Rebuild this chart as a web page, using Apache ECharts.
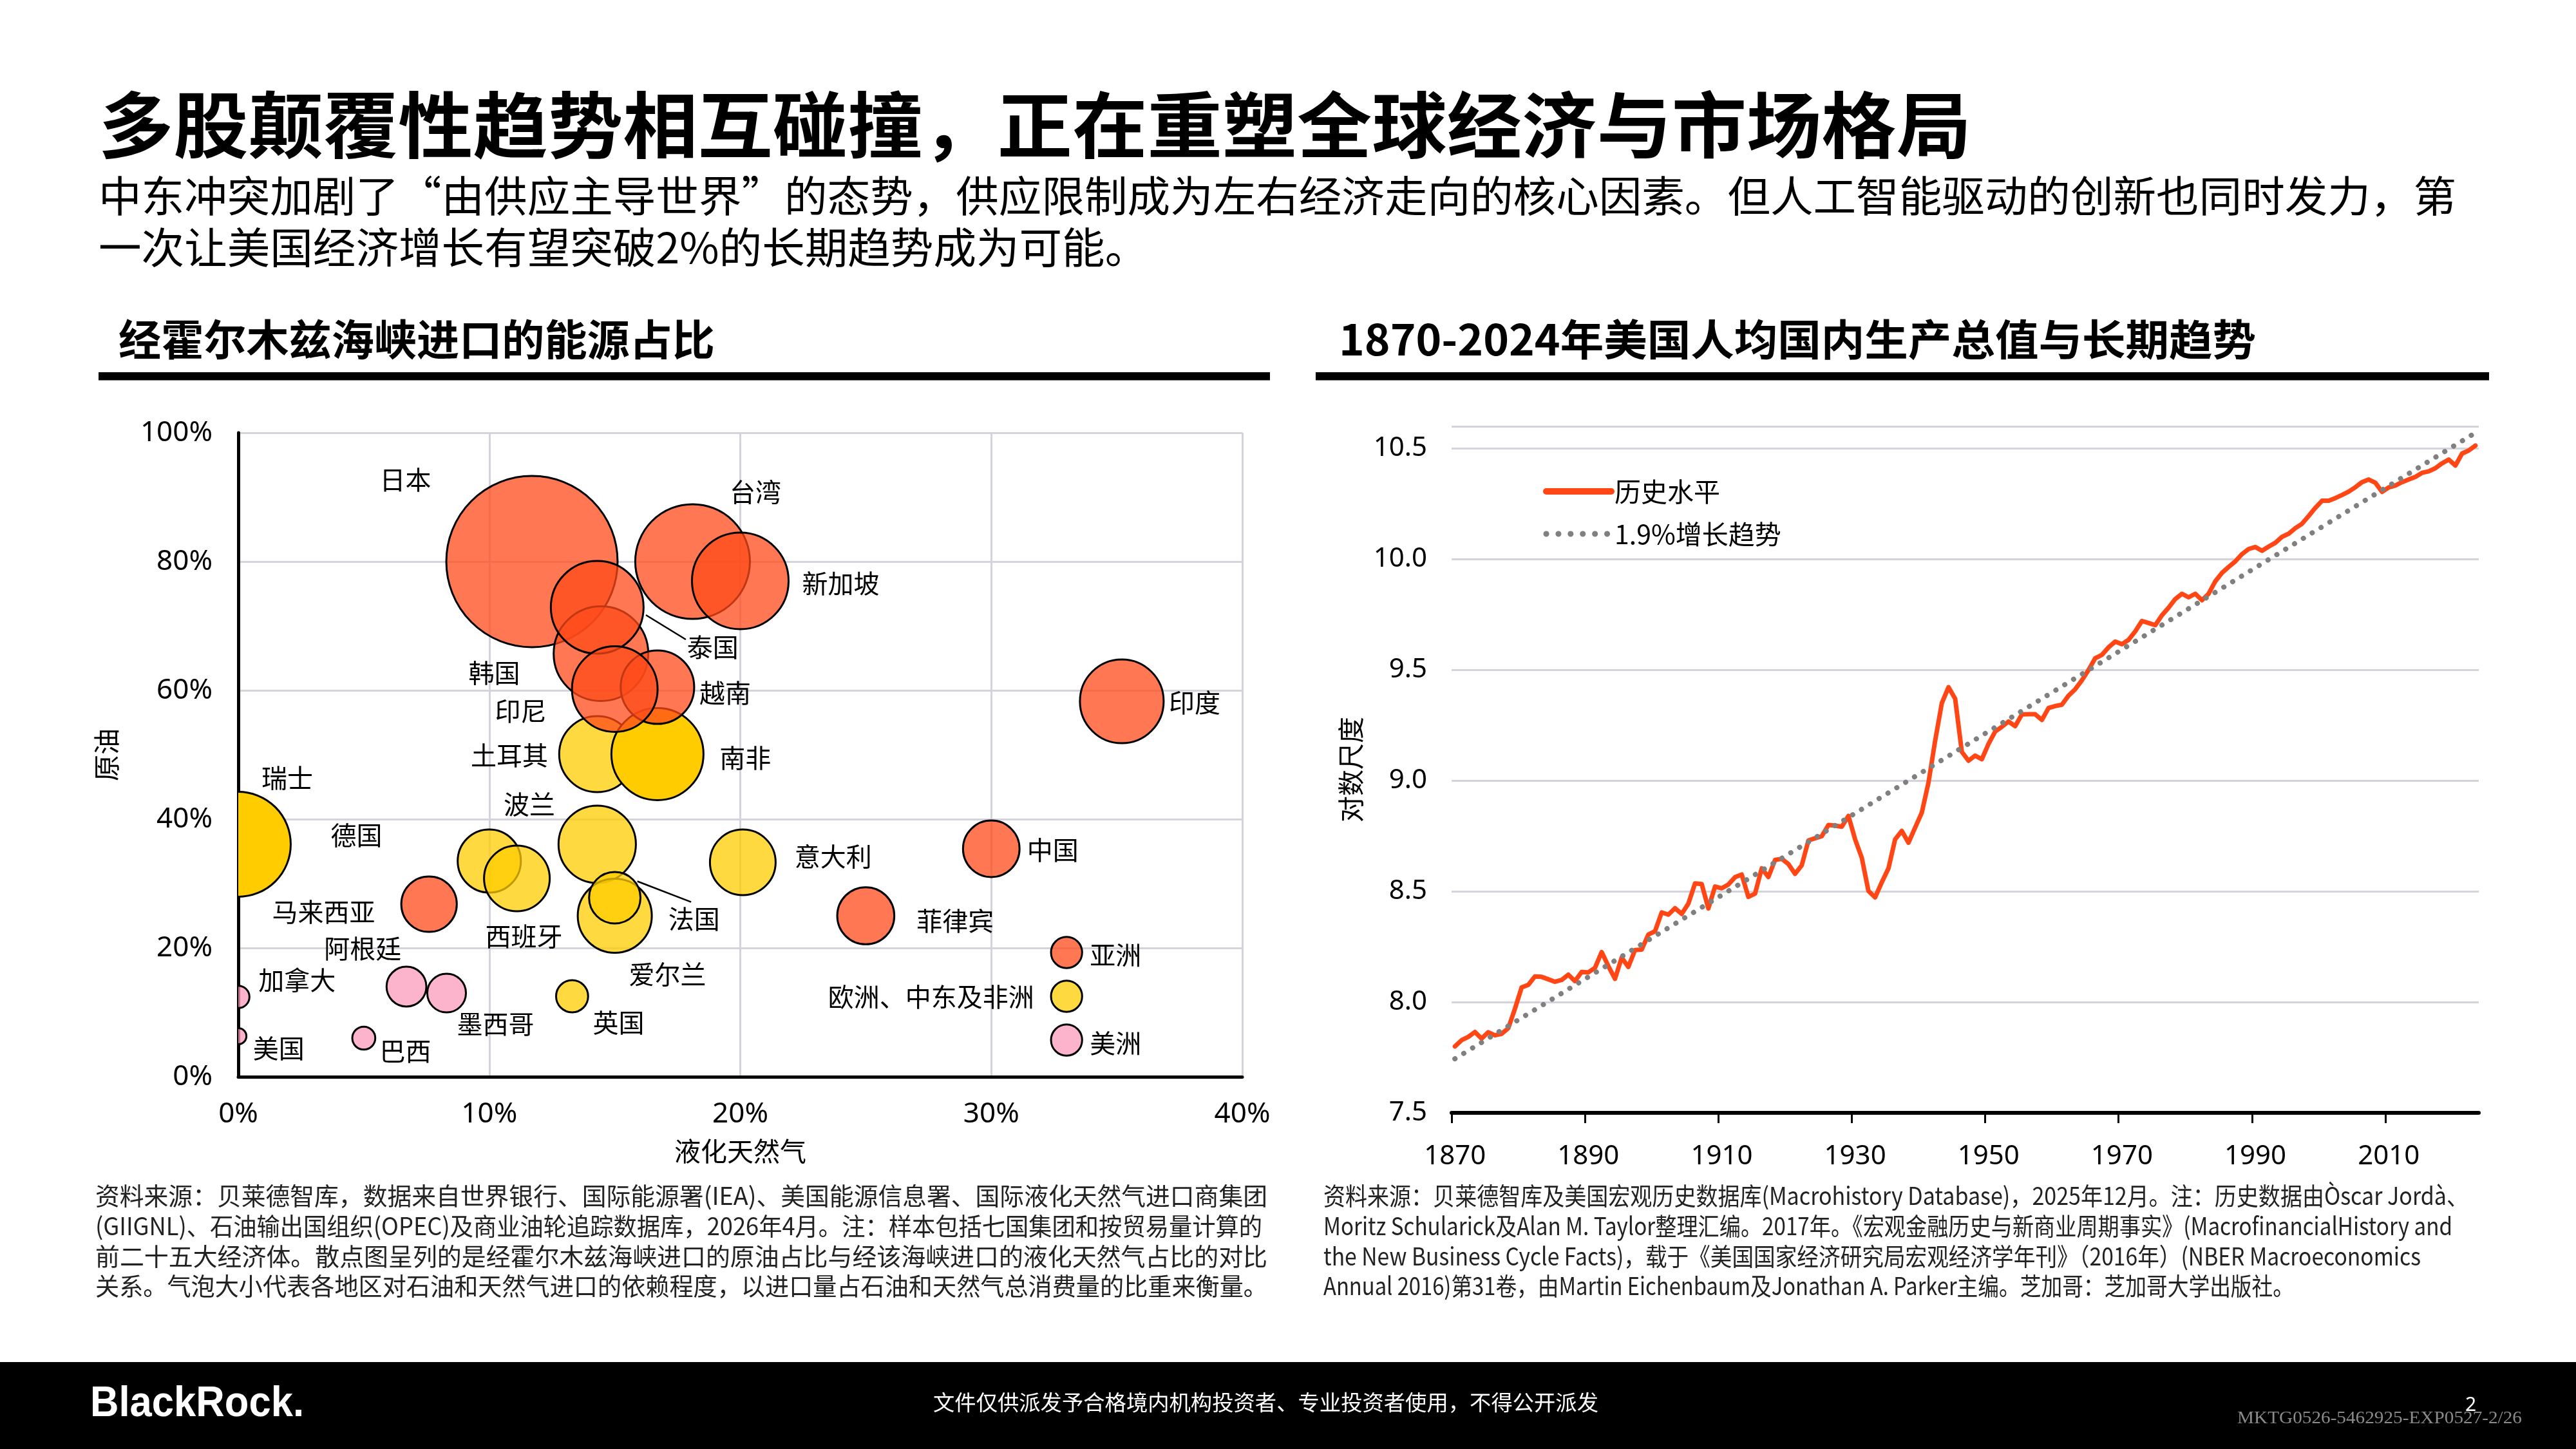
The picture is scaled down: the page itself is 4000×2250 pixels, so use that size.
<!DOCTYPE html>
<html>
<head>
<meta charset="utf-8">
<script src="https://cdn.jsdelivr.net/npm/echarts@6/dist/echarts.min.js"></script>
<style>
  html, body { margin: 0; padding: 0; background: #fff; }
  #main { width: 4000px; height: 2250px; }
</style>
</head>
<body>
<div id="main"></div>
<script>
// ---------- 左图：气泡 ----------
const countries = ['日本', '台湾', '新加坡', '韩国', '泰国', '土耳其', '南非', '越南', '印尼', '印度',
  '瑞士', '波兰', '德国', '西班牙', '意大利', '爱尔兰', '法国', '中国', '菲律宾', '马来西亚',
  '阿根廷', '墨西哥', '英国', '加拿大', '美国', '巴西'];
// 液化天然气占比 (%)
const lngShare = [11.7, 18.1, 20.0, 14.45, 14.3, 14.3, 16.7, 16.7, 15.0, 35.2,
  0, 14.3, 10.0, 11.1, 20.1, 15.0, 15.0, 30.0, 25.0, 7.6,
  6.7, 8.3, 13.3, 0, 0, 5.0];
// 原油占比 (%)
const oilShare = [80.0, 80.0, 77.0, 65.7, 72.9, 50.1, 50.1, 60.5, 60.2, 58.3,
  36.1, 36.1, 33.5, 30.8, 33.3, 25.0, 27.8, 35.4, 25.0, 26.8,
  14.0, 13.0, 12.5, 12.4, 6.3, 6.0];
// 气泡大小（相对进口依赖度）
const bubbleSize = [100, 44.8, 31.8, 30.5, 29.3, 19.7, 28.9, 18.4, 25.0, 23.9,
  37.5, 20.4, 13.6, 14.7, 14.7, 18.7, 9.0, 10.9, 11.1, 10.5,
  5.4, 5.1, 3.5, 1.7, 0.9, 1.8];
const region = ['亚洲', '亚洲', '亚洲', '亚洲', '亚洲', '欧洲、中东及非洲', '欧洲、中东及非洲', '亚洲', '亚洲', '亚洲',
  '欧洲、中东及非洲', '欧洲、中东及非洲', '欧洲、中东及非洲', '欧洲、中东及非洲', '欧洲、中东及非洲', '欧洲、中东及非洲', '欧洲、中东及非洲', '亚洲', '亚洲', '亚洲',
  '美洲', '美洲', '欧洲、中东及非洲', '美洲', '美洲', '美洲'];

// 图例气泡
const keyRegions = ['亚洲', '欧洲、中东及非洲', '美洲'];
const keyX = [33, 33, 33];
const keyY = [19.3, 12.5, 5.7];
const keySize = [3.3, 3.3, 3.3];

// ---------- 右图：美国人均GDP（对数） ----------
const gdpLog = [
  7.800, 7.828, 7.843, 7.865, 7.835, 7.864, 7.850, 7.857, 7.882, 7.970,   // 1870
  8.066, 8.078, 8.116, 8.114, 8.103, 8.092, 8.100, 8.124, 8.095, 8.136,   // 1880
  8.134, 8.155, 8.226, 8.163, 8.105, 8.201, 8.159, 8.235, 8.237, 8.305,   // 1890
  8.320, 8.405, 8.395, 8.424, 8.398, 8.445, 8.536, 8.533, 8.423, 8.522,   // 1900
  8.514, 8.531, 8.564, 8.576, 8.475, 8.490, 8.604, 8.565, 8.642, 8.647,   // 1910
  8.623, 8.579, 8.618, 8.730, 8.740, 8.749, 8.800, 8.797, 8.792, 8.841,   // 1920
  8.735, 8.652, 8.502, 8.473, 8.541, 8.604, 8.735, 8.773, 8.720, 8.788,   // 1930
  8.856, 8.991, 9.180, 9.350, 9.422, 9.370, 9.130, 9.090, 9.113, 9.097,   // 1940
  9.166, 9.222, 9.243, 9.267, 9.246, 9.299, 9.300, 9.300, 9.274, 9.328,   // 1950
  9.337, 9.343, 9.384, 9.413, 9.453, 9.500, 9.553, 9.568, 9.602, 9.628,   // 1960
  9.616, 9.636, 9.674, 9.721, 9.712, 9.702, 9.747, 9.781, 9.820, 9.844,   // 1970
  9.828, 9.844, 9.815, 9.844, 9.900, 9.938, 9.965, 9.990, 10.023, 10.046, // 1980
  10.055, 10.038, 10.057, 10.074, 10.101, 10.115, 10.140, 10.160, 10.195, 10.232, // 1990
  10.264, 10.264, 10.276, 10.290, 10.305, 10.325, 10.348, 10.360, 10.345, 10.304, // 2000
  10.324, 10.333, 10.348, 10.360, 10.372, 10.390, 10.397, 10.411, 10.433, 10.450, // 2010
  10.423, 10.477, 10.491, 10.513                                           // 2020
];
const firstYear = 1870;
const trendYears = [1870, 2023];
const trendValues = [7.744, 10.571];
const yearTicks = [1870, 1890, 1910, 1930, 1950, 1970, 1990, 2010];
const logTicks = [7.5, 8.0, 8.5, 9.0, 9.5, 10.0, 10.5];

// ---------- 版式 ----------
const CJK = '"Noto Sans CJK SC"';
const NUM = '"Noto Sans"';
const NOTE = '"Liberation Sans Narrow", "Noto Sans CJK SC", sans-serif';

const regionFill = {
  '亚洲': 'rgba(255,75,25,0.75)',
  '欧洲、中东及非洲': 'rgba(255,204,0,0.75)',
  '美洲': 'rgba(250,155,185,0.75)'
};
const solidBubbles = ['南非', '瑞士'];

// 标签位置（数据坐标）
const labelAt = {
  '日本': [6.66, 92.7], '台湾': [20.6, 90.8], '新加坡': [24.0, 76.6], '泰国': [18.9, 66.7],
  '韩国': [10.2, 62.7], '印尼': [11.25, 56.8], '越南': [19.4, 59.6], '土耳其': [10.8, 49.9],
  '南非': [20.2, 49.5], '印度': [38.1, 58.1], '瑞士': [1.95, 46.4], '波兰': [11.6, 42.3],
  '德国': [4.71, 37.5], '意大利': [23.7, 34.25], '中国': [32.45, 35.2], '马来西亚': [3.4, 25.6],
  '法国': [18.16, 24.5], '菲律宾': [28.56, 24.2], '西班牙': [11.38, 21.8], '阿根廷': [4.96, 19.9],
  '加拿大': [2.34, 15.06], '爱尔兰': [17.1, 15.9], '墨西哥': [10.25, 8.18], '英国': [15.15, 8.4],
  '美国': [1.61, 4.43], '巴西': [6.66, 4.05], '亚洲': [34.95, 18.96],
  '欧洲、中东及非洲': [27.6, 12.46], '美洲': [34.95, 5.2]
};
const leaders = {
  '泰国': [[16.24, 71.7], [17.83, 67.9]],
  '法国': [[15.9, 30.35], [18.04, 27.14]]
};
const labelNames = Object.keys(labelAt);

// 文字宽度适配
const mctx = document.createElement('canvas').getContext('2d');
function fit(text, font, target) {
  mctx.font = font;
  const w = mctx.measureText(text).width;
  return Math.max(0.7, Math.min(1.3, target / w));
}
function textEl(x, y, text, font, fill, target, sx) {
  const s = sx || (target ? fit(text, font, target) : 1);
  return {
    type: 'text', x: x, y: y, scaleX: s, z: 50,
    style: { text: text, font: font, fill: fill, x: 0, y: 0,
      align: 'left', textAlign: 'left', verticalAlign: 'middle', textVerticalAlign: 'middle' }
  };
}

const titleFont = 'bold 112px ' + CJK;
const subFont = '66px ' + CJK;
const headFont = 'bold 66px ' + CJK;
const noteFont = '38px ' + NOTE;

const sub1 = '中东冲突加剧了“由供应主导世界”的态势，供应限制成为左右经济走向的核心因素。但人工智能驱动的创新也同时发力，第';
const sub2 = '一次让美国经济增长有望突破2%的长期趋势成为可能。';
const subScale = fit(sub1, subFont, 3661);

const noteLeft = [
  '资料来源：贝莱德智库，数据来自世界银行、国际能源署(IEA)、美国能源信息署、国际液化天然气进口商集团',
  '(GIIGNL)、石油输出国组织(OPEC)及商业油轮追踪数据库，2026年4月。注：样本包括七国集团和按贸易量计算的',
  '前二十五大经济体。散点图呈列的是经霍尔木兹海峡进口的原油占比与经该海峡进口的液化天然气占比的对比',
  '关系。气泡大小代表各地区对石油和天然气进口的依赖程度，以进口量占石油和天然气总消费量的比重来衡量。'
];
const noteLeftW = [1820, 1812, 1820, 1820];
const noteRight = [
  '资料来源：贝莱德智库及美国宏观历史数据库(Macrohistory Database)，2025年12月。注：历史数据由Òscar Jordà、',
  'Moritz Schularick及Alan M. Taylor整理汇编。2017年。《宏观金融历史与新商业周期事实》(MacrofinancialHistory and',
  'the New Business Cycle Facts)，载于《美国国家经济研究局宏观经济学年刊》（2016年）(NBER Macroeconomics',
  'Annual 2016)第31卷，由Martin Eichenbaum及Jonathan A. Parker主编。芝加哥：芝加哥大学出版社。'
];
const noteRightW = [1778, 1753, 1704, 1507];
const noteY = [1857, 1904, 1951, 1997];

const graphics = [
  textEl(153, 194, '多股颠覆性趋势相互碰撞，正在重塑全球经济与市场格局', titleFont, '#000', 2908),
  textEl(153, 303.5, sub1, subFont, '#000', null, subScale),
  textEl(153, 383.5, sub2, subFont, '#000', null, subScale),
  textEl(184, 527, '经霍尔木兹海峡进口的能源占比', headFont, '#000', 926),
  textEl(2079, 527, '1870-2024年美国人均国内生产总值与长期趋势', headFont, '#000', 1424),
  { type: 'rect', shape: { x: 153, y: 578, width: 1819, height: 12.5 }, style: { fill: '#000' } },
  { type: 'rect', shape: { x: 2043, y: 578, width: 1822, height: 12.5 }, style: { fill: '#000' } },
  { type: 'rect', shape: { x: 0, y: 2115, width: 4000, height: 135 }, style: { fill: '#000' }, z: 40 },
  textEl(140, 2181, 'BlackRock.', 'bold 66px "Liberation Sans", sans-serif', '#fff', 332),
  textEl(1449, 2177, '文件仅供派发予合格境内机构投资者、专业投资者使用，不得公开派发', '33px ' + CJK, '#fff', 1033),
  textEl(3474, 2203, 'MKTG0526-5462925-EXP0527-2/26', '27px "Liberation Serif", serif', '#8a8a8a', 442),
  textEl(3828, 2182, '2', '30px ' + NUM, '#fff')
];
noteLeft.forEach((t, i) => graphics.push(textEl(148, noteY[i], t, noteFont, '#222', noteLeftW[i])));
noteRight.forEach((t, i) => graphics.push(textEl(2055, noteY[i], t, noteFont, '#222', noteRightW[i])));

// ---------- 图表 ----------
const bubbleData = countries.map((n, i) => [lngShare[i], oilShare[i], bubbleSize[i], i]);
const keyData = keyRegions.map((n, i) => [keyX[i], keyY[i], keySize[i], i]);
const gdpData = gdpLog.map((v, i) => [firstYear + i, v]);
const trendData = trendYears.map((y, i) => [y, trendValues[i]]);

const axisLabelStyle = { color: '#000', fontSize: 44, fontFamily: NUM };
const gridLine = { show: true, lineStyle: { color: '#D4D3DC', width: 3 } };
const noSymbol = { color: 'rgba(0,0,0,0)', borderColor: 'rgba(0,0,0,0)', borderWidth: 0 };

function circleRender(fillOf) {
  return function (params, api) {
    const p = api.coord([api.value(0), api.value(1)]);
    const r = 13.3 * Math.sqrt(api.value(2));
    return {
      type: 'circle',
      shape: { cx: p[0], cy: p[1], r: r },
      style: { fill: fillOf(api.value(3)), stroke: '#000', lineWidth: 3 }
    };
  };
}

const option = {
  animation: false,
  backgroundColor: '#fff',
  graphic: graphics,
  grid: [
    { left: 370, top: 672, width: 1559, height: 1000 },
    { left: 2254, top: 662, width: 1595, height: 1066 }
  ],
  legend: {
    left: 2391, top: 735, orient: 'vertical', padding: 5,
    itemWidth: 101, itemHeight: 46, itemGap: 20, selectedMode: false,
    textStyle: { fontSize: 41, fontFamily: CJK, color: '#000', lineHeight: 46 },
    data: [
      { name: '历史水平', itemStyle: noSymbol, lineStyle: { width: 10, cap: 'round' } },
      { name: '1.9%增长趋势', itemStyle: noSymbol, lineStyle: { width: 9, type: [0.1, 18.8], cap: 'round' } }
    ]
  },
  xAxis: [
    {
      gridIndex: 0, type: 'value', min: 0, max: 40, interval: 10,
      name: '液化天然气', nameLocation: 'middle', nameGap: 95,
      nameTextStyle: { fontSize: 41, fontFamily: CJK, color: '#000' },
      axisLine: { show: true, onZero: false, lineStyle: { color: '#000', width: 5 } },
      axisTick: { show: false },
      axisLabel: Object.assign({ margin: 36, formatter: '{value}%' }, axisLabelStyle),
      splitLine: gridLine
    },
    {
      gridIndex: 1, type: 'value', min: 1869.5, max: 2023.5,
      axisLine: { show: true, onZero: false, lineStyle: { color: '#000', width: 6 } },
      axisTick: { show: true, length: 16, lineStyle: { color: '#000', width: 3 },
        customValues: yearTicks.map(y => y - 0.5) },
      axisLabel: Object.assign({ margin: 47, customValues: yearTicks,
        formatter: v => String(Math.round(v)) }, axisLabelStyle, { fontSize: 42 }),
      splitLine: { show: false }
    }
  ],
  yAxis: [
    {
      gridIndex: 0, type: 'value', min: 0, max: 100, interval: 20,
      name: '原油', nameLocation: 'middle', nameGap: 184,
      nameTextStyle: { fontSize: 41, fontFamily: CJK, color: '#000' },
      axisLine: { show: true, onZero: false, lineStyle: { color: '#000', width: 5 } },
      axisTick: { show: false },
      axisLabel: Object.assign({ margin: 40, formatter: '{value}%' }, axisLabelStyle),
      splitLine: gridLine
    },
    {
      gridIndex: 1, type: 'value', min: 7.5, max: 10.6, interval: 0.5,
      name: '对数尺度', nameLocation: 'middle', nameGap: 136,
      nameTextStyle: { fontSize: 41, fontFamily: CJK, color: '#000' },
      axisLine: { show: false },
      axisTick: { show: false },
      axisLabel: Object.assign({ margin: 38,
        customValues: logTicks, formatter: v => v.toFixed(1) }, axisLabelStyle, { fontSize: 42 }),
      splitLine: { show: true, lineStyle: { color: '#D4D3DC', width: 3 } }
    }
  ],
  series: [
    {
      name: 'bubbles', type: 'custom', xAxisIndex: 0, yAxisIndex: 0, clip: true, z: 3,
      data: bubbleData,
      renderItem: circleRender(i => solidBubbles.indexOf(countries[i]) >= 0 ? '#FFCC00' : regionFill[region[i]])
    },
    {
      name: 'key', type: 'custom', xAxisIndex: 0, yAxisIndex: 0, z: 4,
      data: keyData,
      renderItem: circleRender(i => regionFill[keyRegions[i]])
    },
    {
      name: 'labels', type: 'custom', xAxisIndex: 0, yAxisIndex: 0, z: 5,
      data: labelNames.map((n, i) => [labelAt[n][0], labelAt[n][1], i]),
      renderItem: function (params, api) {
        const name = labelNames[api.value(2)];
        const p = api.coord([api.value(0), api.value(1)]);
        const children = [{
          type: 'text',
          style: { text: name, x: p[0], y: p[1], font: '40px ' + CJK, fill: '#000',
            align: 'center', textAlign: 'center', verticalAlign: 'middle', textVerticalAlign: 'middle' }
        }];
        if (leaders[name]) {
          const a = api.coord(leaders[name][0]);
          const b = api.coord(leaders[name][1]);
          children.push({ type: 'line', shape: { x1: a[0], y1: a[1], x2: b[0], y2: b[1] },
            style: { stroke: '#000', lineWidth: 2.5 } });
        }
        return { type: 'group', children: children };
      }
    },
    {
      name: '历史水平', type: 'line', xAxisIndex: 1, yAxisIndex: 1, z: 3,
      data: gdpData, symbol: 'none', showSymbol: false,
      lineStyle: { color: '#FF4614', width: 7, join: 'round', cap: 'round' },
      itemStyle: { color: '#FF4614' }
    },
    {
      name: '1.9%增长趋势', type: 'line', xAxisIndex: 1, yAxisIndex: 1, z: 4,
      data: trendData, symbol: 'none', showSymbol: false,
      lineStyle: { color: '#808080', width: 8, type: [0.1, 16], cap: 'round' },
      itemStyle: { color: '#808080' }
    }
  ]
};

const chart = echarts.init(document.getElementById('main'), null, { renderer: 'canvas', width: 4000, height: 2250 });
chart.setOption(option);
</script>
</body>
</html>
